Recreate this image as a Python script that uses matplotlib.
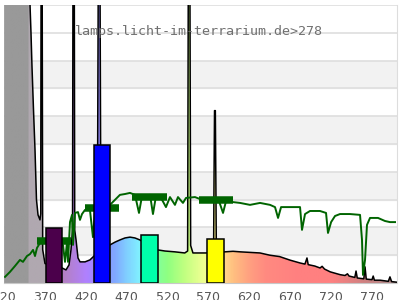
import numpy as np
import matplotlib.pyplot as plt
from matplotlib.colors import LinearSegmentedColormap
from matplotlib.patches import Polygon

# lamp spectrum (relative units, values above 10 are off the scale)
lamp_nm = [320, 351, 351.7, 352.9, 354.1, 356.0, 357.8, 359.6, 361.5, 363.9, 364.8, 365.3, 366.5, 367.2, 370,
           391, 395.7, 399.4, 401.8, 403.7, 404.3, 405.8, 406.4, 408, 410.4, 412.9, 419, 425, 430, 434,
           435.3, 437.2, 438.5, 449.5, 455.7, 461.8, 467.9, 474, 480, 486, 508, 516.8, 529, 541, 544.5,
           545.4, 547.2, 548.2, 551, 559.7, 567, 573, 576.3, 576.8, 577.4, 578.4, 579, 579.6, 583, 590,
           600, 609, 621, 633, 645, 657, 670, 682, 688, 690.5, 692, 700, 706.5, 709, 712, 719, 725, 731,
           737, 740, 742, 749, 750.5, 752, 760, 761.5, 763, 770, 771.5, 773, 780, 790, 792, 794, 800]
lamp_val = [12, 12, 10.0, 9.0, 7.8, 6.2, 4.8, 3.0, 2.45, 2.27, 2.5, 12, 12, 1.2, 0.7,
            0.54, 0.47, 0.65, 1.19, 1.9, 12, 12, 1.9, 1.55, 0.9, 0.76, 0.76, 0.83, 0.97, 1.05,
            12, 12, 1.2, 1.37, 1.47, 1.55, 1.62, 1.65, 1.62, 1.55, 1.19, 1.15, 1.12, 1.08, 1.15,
            12, 12, 1.35, 1.08, 1.08, 1.08, 1.1, 1.3, 3.8, 6.2, 6.2, 3.8, 1.3, 1.12, 1.12,
            1.14, 1.12, 1.1, 1.08, 1.0, 0.95, 0.82, 0.72, 0.68, 0.9, 0.66, 0.61, 0.54, 0.6, 0.5, 0.4, 0.35, 0.3,
            0.27, 0.33, 0.25, 0.2, 0.43, 0.18, 0.15, 0.58, 0.14, 0.12, 0.25, 0.1, 0.1, 0.06, 0.22, 0.05, 0.03]

# sunlight reference
sun_nm = [321.1, 327.2, 333.3, 339.4, 343.1, 348, 351.7, 355.4, 357.8, 360.2, 363.9, 370, 380, 390,
          392, 394.5, 396.9, 398.2, 400.6, 403.1, 404.3, 406.7, 410.4, 412.8, 415.3, 419, 425, 428.7,
          431.1, 440, 449.5, 455.6, 461.7, 467.8, 474, 480.1, 485, 488.7, 498.5, 502.1, 505.8, 510.7,
          518, 522.9, 529, 532.7, 538.8, 542.5, 553.5, 559.6, 571.9, 581.6, 587.8, 591.5, 600, 608.6,
          620.8, 633.1, 645.3, 651.4, 655.1, 658.8, 669.8, 682, 684.4, 688.1, 694.2, 706.4, 713.8,
          716.2, 720, 724.8, 730.9, 743.1, 755.4, 757.8, 759, 761.5, 763.9, 767.6, 777.4, 785.9, 792, 798.2]
sun_val = [0.22, 0.40, 0.61, 0.83, 0.76, 0.97, 1.04, 1.19, 0.97, 1.26, 1.44, 1.5, 1.5, 1.5,
           1.37, 0.76, 1.44, 0.76, 2.19, 2.45, 1.37, 2.52, 2.55, 2.27, 2.48, 2.63, 2.63, 1.65,
           2.55, 2.7, 2.81, 2.99, 3.17, 3.2, 3.24, 3.17, 2.52, 3.13, 3.17, 2.48, 3.13, 3.13,
           2.73, 3.09, 2.81, 3.09, 2.88, 3.06, 3.09, 3.02, 3.02, 3.06, 2.52, 2.95, 2.91, 2.88,
           2.81, 2.88, 2.81, 2.73, 2.34, 2.73, 2.73, 2.73, 1.91, 2.48, 2.59, 2.59, 2.52,
           1.80, 2.19, 2.41, 2.48, 2.48, 2.45, 1.55, 0.29, 0.83, 2.09, 2.34, 2.34, 2.23, 2.19, 2.19]

# band bars
bar_center = [381, 440, 498, 579]
bar_width = [20, 20, 20, 21]
bar_height = [1.97, 4.96, 1.73, 1.6]
bar_colors = ['#4b004b', '#0000ff', '#00ffaa', '#ffff00']
# sunlight level in each band
sun_band = [1.51, 2.69, 3.08, 2.97]
sun_band_width = [41, 41, 42, 42]

label = 'lamps.licht-im-terrarium.de>278'

fig = plt.figure(figsize=(4, 3), dpi=100)
ax = fig.add_axes([0.01025, 0.0567, 0.981, 0.9267])
ax.set_xlim(320, 800)
ax.set_ylim(0, 10)

for lo in [1, 3, 5, 7]:
    ax.axhspan(lo, lo + 1, color='#f2f2f2', zorder=0)
for y in range(1, 11):
    ax.axhline(y, color='#dedede', lw=1.2, zorder=1)

# rainbow gradient clipped to the spectrum
stops = [(320, '#999999'), (349.9, '#999999'), (350, '#b0a8b0'), (379.9, '#b0a8b0'),
         (380, '#b478b8'), (395, '#b480c8'), (420, '#b080ff'), (440, '#9090ff'),
         (455, '#80a8ff'), (470, '#80d0ff'), (485, '#80f0ff'), (492, '#80ffe0'),
         (505, '#80ffa0'), (520, '#90ff80'), (540, '#c0ff80'), (560, '#e8ff90'),
         (575, '#ffff90'), (585, '#ffe090'), (600, '#ffc080'), (620, '#ffa080'),
         (640, '#ff8a80'), (680, '#ff8080'), (720, '#ff8080'), (760, '#d08080'), (800, '#a88888')]
cmap = LinearSegmentedColormap.from_list('spec', [((n - 320) / 480, c) for n, c in stops])
im = ax.imshow(np.linspace(0, 1, 960)[None, :], extent=(320, 800, 0, 10), aspect='auto',
               cmap=cmap, zorder=2, interpolation='bilinear')
poly = Polygon(np.column_stack([[320] + lamp_nm + [800], [0] + lamp_val + [0]]),
               facecolor='none', edgecolor='none')
ax.add_patch(poly)
im.set_clip_path(poly)
ax.plot(lamp_nm, lamp_val, color='black', lw=1.1, zorder=3)

# sunlight
ax.plot(sun_nm, sun_val, color='#006400', lw=1.4, zorder=4)
for c, w, v in zip(bar_center, sun_band_width, sun_band):
    ax.plot([c - w / 2, c + w / 2], [v, v], color='#006400', lw=5.4, solid_capstyle='butt', zorder=4)

ax.bar(bar_center, bar_height, width=bar_width, color=bar_colors, edgecolor='black',
       linewidth=1.1, zorder=5)

fig.text(0.1875, 1 - 32 / 300, label, family='DejaVu Sans Mono', fontsize=9.6,
         color='#707070', va='center', ha='left')

ax.set_xticks(np.arange(320, 800, 50))
ax.set_yticks([])
ax.tick_params(axis='x', length=0, pad=6, labelsize=9, labelcolor='#555555')
for s in ['left', 'top']:
    ax.spines[s].set_visible(False)
ax.spines['bottom'].set_color('#c8c8c8')
ax.spines['right'].set_color('#dddddd')

fig.savefig('out.png', dpi=100)
